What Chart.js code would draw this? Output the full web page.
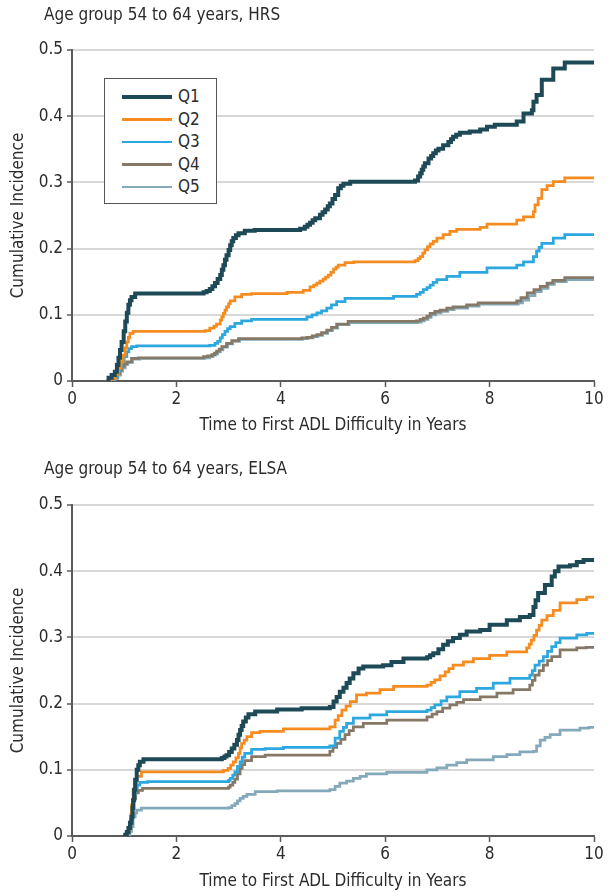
<!DOCTYPE html>
<html>
<head>
<meta charset="utf-8">
<script src="https://cdn.jsdelivr.net/npm/chart.js@4.4.1/dist/chart.umd.min.js"></script>
<style>
  body { margin: 0; background: #fff; color: #2b2b2b;
         font-family: "Liberation Sans Narrow", "DejaVu Sans Condensed", sans-serif; }
  .panel { position: absolute; left: 0; width: 609px; }
  .heading { position: absolute; left: 44px; font-size: 17px; white-space: nowrap; }
  #legend { position: absolute; left: 104px; top: 78px; width: 113px; height: 126px;
            border: 1px solid #555; box-sizing: border-box; background: #fff; }
  #legend .row { position: absolute; left: 17px; height: 20px; font-size: 17px; line-height: 20px; }
  #legend .swatch { display: inline-block; width: 50px; vertical-align: middle; margin-right: 6px; }
</style>
</head>
<body>
<div class="panel" style="top:0;height:446px">
  <div class="heading" style="top:4px">Age group 54 to 64 years, HRS</div>
  <canvas id="hrs_chart" width="609" height="446"></canvas>
  <div id="legend"></div>
</div>
<div class="panel" style="top:455px;height:438px">
  <div class="heading" style="top:3px">Age group 54 to 64 years, ELSA</div>
  <canvas id="elsa_chart" width="609" height="438"></canvas>
</div>
<script>
// Series names and colours (legend order)
var seriesNames = ['Q1', 'Q2', 'Q3', 'Q4', 'Q5'];
var seriesColors = ['#1d4a56', '#f68b1f', '#2ca7df', '#857867', '#84a9ba'];
var seriesWidths = [4, 2.75, 2.75, 2.75, 2.75];

var xTicks = [0, 2, 4, 6, 8, 10];
var yTicks = [0, 0.1, 0.2, 0.3, 0.4, 0.5];

// HRS curves: [years, cumulative incidence]
var hrsQ1 = [[0.66,0],[0.7,0.005],[0.76,0.009],[0.82,0.014],[0.86,0.024],[0.89,0.035],[0.92,0.047],[0.95,0.059],
  [0.99,0.075],[1.02,0.09],[1.05,0.103],[1.08,0.115],[1.11,0.122],[1.14,0.127],[1.21,0.132],
  [2.52,0.134],[2.58,0.136],[2.64,0.139],[2.69,0.143],[2.74,0.148],[2.79,0.154],[2.84,0.16],[2.87,0.168],
  [2.9,0.175],[2.93,0.183],[2.96,0.19],[3.0,0.198],[3.03,0.205],[3.06,0.211],[3.09,0.216],[3.14,0.22],
  [3.19,0.223],[3.31,0.227],[3.5,0.228],[4.37,0.23],[4.46,0.233],[4.51,0.236],[4.56,0.239],[4.61,0.243],
  [4.66,0.246],[4.75,0.251],[4.8,0.255],[4.85,0.259],[4.9,0.264],[4.94,0.268],[4.99,0.275],[5.04,0.281],
  [5.1,0.291],[5.15,0.295],[5.2,0.298],[5.33,0.301],[6.57,0.303],[6.63,0.309],[6.67,0.314],[6.7,0.319],
  [6.73,0.324],[6.76,0.329],[6.83,0.336],[6.88,0.34],[6.92,0.344],[6.97,0.348],[7.02,0.351],[7.11,0.356],
  [7.21,0.361],[7.26,0.365],[7.3,0.369],[7.36,0.372],[7.43,0.375],[7.62,0.377],[7.82,0.38],[7.95,0.384],
  [8.1,0.387],[8.52,0.392],[8.65,0.404],[8.81,0.409],[8.84,0.422],[8.9,0.432],[9.0,0.455],[9.22,0.472],
  [9.44,0.481],[10,0.481]];
var hrsQ2 = [[0.7,0],[0.76,0.004],[0.83,0.01],[0.89,0.019],[0.94,0.029],[0.98,0.039],[1.02,0.05],[1.05,0.059],
  [1.08,0.066],[1.11,0.072],[1.17,0.075],[2.55,0.076],[2.64,0.08],[2.72,0.083],[2.77,0.086],[2.84,0.092],
  [2.87,0.097],[2.9,0.102],[2.93,0.107],[2.96,0.112],[3.0,0.117],[3.03,0.121],[3.12,0.127],[3.25,0.131],
  [3.44,0.132],[4.12,0.134],[4.43,0.137],[4.56,0.142],[4.63,0.145],[4.69,0.148],[4.75,0.151],[4.81,0.154],
  [4.86,0.157],[4.91,0.16],[4.96,0.164],[5.01,0.169],[5.06,0.172],[5.1,0.175],[5.23,0.179],[5.4,0.18],
  [6.57,0.182],[6.63,0.185],[6.67,0.188],[6.72,0.193],[6.76,0.198],[6.81,0.203],[6.86,0.207],[6.92,0.211],
  [6.99,0.216],[7.11,0.221],[7.24,0.226],[7.37,0.229],[7.82,0.232],[7.95,0.237],[8.52,0.243],[8.65,0.248],
  [8.84,0.256],[8.87,0.266],[8.93,0.276],[9.0,0.289],[9.1,0.295],[9.22,0.301],[9.44,0.307],[10,0.307]];
var hrsQ3 = [[0.72,0],[0.8,0.006],[0.87,0.015],[0.91,0.022],[0.95,0.029],[1.0,0.037],[1.05,0.044],[1.09,0.049],
  [1.14,0.052],[1.24,0.053],[2.64,0.054],[2.74,0.057],[2.79,0.06],[2.84,0.065],[2.88,0.07],[2.93,0.075],
  [2.98,0.079],[3.03,0.082],[3.12,0.087],[3.25,0.091],[3.44,0.093],[4.5,0.097],[4.6,0.1],[4.69,0.103],
  [4.78,0.106],[4.88,0.11],[4.97,0.115],[5.07,0.12],[5.23,0.125],[6.16,0.128],[6.6,0.131],[6.67,0.134],
  [6.73,0.138],[6.8,0.141],[6.86,0.145],[6.92,0.149],[6.99,0.153],[7.18,0.158],[7.43,0.164],[7.95,0.171],
  [8.52,0.175],[8.65,0.18],[8.84,0.188],[8.9,0.196],[8.95,0.202],[9.0,0.208],[9.22,0.216],[9.44,0.221],[10,0.221]];
var hrsQ4 = [[0.74,0],[0.8,0.005],[0.86,0.011],[0.91,0.016],[0.95,0.022],[1.0,0.026],[1.05,0.029],[1.14,0.034],
  [1.27,0.035],[2.52,0.037],[2.6,0.038],[2.68,0.04],[2.73,0.042],[2.77,0.045],[2.82,0.048],[2.87,0.052],
  [2.96,0.057],[3.06,0.061],[3.19,0.064],[4.4,0.065],[4.5,0.066],[4.6,0.068],[4.69,0.07],[4.78,0.073],
  [4.88,0.077],[4.97,0.081],[5.07,0.086],[5.29,0.09],[6.6,0.091],[6.67,0.093],[6.73,0.095],[6.8,0.098],
  [6.86,0.102],[6.95,0.105],[7.05,0.107],[7.18,0.11],[7.3,0.112],[7.56,0.115],[7.78,0.118],[8.52,0.121],
  [8.6,0.126],[8.72,0.133],[8.85,0.138],[8.97,0.143],[9.1,0.148],[9.21,0.152],[9.44,0.156],[10,0.157]];
var hrsQ5 = [[0.76,0],[0.82,0.004],[0.88,0.009],[0.93,0.015],[0.97,0.02],[1.02,0.025],[1.07,0.028],[1.16,0.033],
  [1.3,0.034],[2.55,0.035],[2.64,0.037],[2.7,0.039],[2.75,0.041],[2.79,0.044],[2.84,0.047],[2.89,0.051],
  [2.98,0.056],[3.08,0.06],[3.21,0.063],[4.42,0.064],[4.52,0.065],[4.62,0.067],[4.71,0.069],[4.8,0.072],
  [4.9,0.076],[4.99,0.08],[5.09,0.085],[5.31,0.088],[6.62,0.089],[6.69,0.091],[6.75,0.093],[6.82,0.096],
  [6.88,0.1],[6.97,0.103],[7.07,0.105],[7.2,0.108],[7.32,0.11],[7.58,0.113],[7.8,0.116],[8.55,0.118],
  [8.63,0.122],[8.75,0.129],[8.87,0.135],[8.99,0.14],[9.12,0.146],[9.24,0.15],[9.47,0.153],[10,0.154]];

// ELSA curves
var elsaQ1 = [[0.98,0],[1.02,0.002],[1.05,0.006],[1.08,0.012],[1.11,0.02],[1.14,0.029],[1.16,0.042],[1.17,0.054],
  [1.19,0.07],[1.21,0.085],[1.24,0.1],[1.27,0.107],[1.3,0.112],[1.37,0.116],[2.87,0.118],[2.92,0.12],
  [2.96,0.122],[3.01,0.127],[3.06,0.132],[3.11,0.138],[3.16,0.145],[3.19,0.153],[3.22,0.16],[3.25,0.166],
  [3.28,0.173],[3.33,0.179],[3.38,0.184],[3.51,0.188],[3.93,0.191],[4.4,0.193],[4.94,0.195],[5.01,0.203],
  [5.07,0.21],[5.13,0.218],[5.2,0.224],[5.26,0.231],[5.32,0.238],[5.39,0.246],[5.49,0.253],[5.58,0.256],
  [5.96,0.258],[6.12,0.263],[6.35,0.268],[6.8,0.27],[6.86,0.273],[6.92,0.276],[7.02,0.282],[7.11,0.289],
  [7.2,0.294],[7.3,0.299],[7.43,0.304],[7.56,0.309],[7.82,0.311],[8.0,0.319],[8.33,0.326],[8.58,0.331],
  [8.77,0.334],[8.84,0.346],[8.88,0.356],[8.93,0.367],[9.06,0.379],[9.19,0.392],[9.25,0.4],[9.32,0.407],
  [9.54,0.409],[9.67,0.414],[9.8,0.417],[10,0.417]];
var elsaQ2 = [[1.0,0],[1.05,0.004],[1.08,0.01],[1.11,0.019],[1.13,0.033],[1.14,0.047],[1.17,0.07],[1.2,0.08],
  [1.24,0.09],[1.33,0.097],[2.9,0.099],[2.99,0.102],[3.04,0.107],[3.09,0.112],[3.14,0.118],[3.19,0.125],
  [3.22,0.133],[3.25,0.14],[3.3,0.145],[3.35,0.15],[3.44,0.156],[3.6,0.158],[4.05,0.162],[4.94,0.165],
  [5.04,0.175],[5.1,0.182],[5.17,0.19],[5.25,0.196],[5.33,0.203],[5.45,0.213],[5.64,0.216],[5.9,0.221],
  [6.16,0.226],[6.8,0.228],[6.88,0.232],[6.95,0.236],[7.05,0.242],[7.15,0.248],[7.22,0.253],[7.3,0.258],
  [7.5,0.263],[7.69,0.268],[8.0,0.273],[8.33,0.278],[8.71,0.284],[8.76,0.29],[8.8,0.296],[8.85,0.303],
  [8.9,0.311],[8.95,0.318],[9.0,0.326],[9.1,0.333],[9.22,0.341],[9.35,0.352],[9.67,0.357],[9.86,0.361],[10,0.361]];
var elsaQ3 = [[1.0,0],[1.05,0.005],[1.09,0.012],[1.12,0.025],[1.15,0.045],[1.18,0.062],[1.21,0.072],[1.25,0.077],
  [1.3,0.081],[1.45,0.082],[3.0,0.084],[3.03,0.087],[3.08,0.092],[3.12,0.097],[3.17,0.105],[3.22,0.112],
  [3.26,0.119],[3.31,0.125],[3.44,0.131],[3.7,0.132],[4.05,0.134],[4.94,0.136],[5.04,0.148],[5.13,0.158],
  [5.2,0.164],[5.26,0.17],[5.39,0.178],[5.71,0.183],[6.03,0.188],[6.8,0.19],[6.88,0.194],[6.95,0.198],
  [7.07,0.204],[7.18,0.21],[7.43,0.218],[7.75,0.223],[8.07,0.231],[8.39,0.238],[8.77,0.243],[8.82,0.25],
  [8.87,0.258],[8.95,0.264],[9.03,0.271],[9.11,0.279],[9.19,0.286],[9.27,0.292],[9.35,0.299],[9.67,0.304],
  [9.86,0.306],[10,0.307]];
var elsaQ4 = [[1.02,0],[1.07,0.005],[1.1,0.012],[1.13,0.025],[1.16,0.042],[1.19,0.056],[1.22,0.065],[1.27,0.069],
  [1.35,0.072],[3.0,0.074],[3.03,0.077],[3.08,0.081],[3.12,0.086],[3.17,0.094],[3.22,0.102],[3.26,0.108],
  [3.31,0.114],[3.44,0.12],[3.7,0.122],[4.94,0.128],[5.0,0.134],[5.07,0.14],[5.15,0.146],[5.23,0.153],
  [5.31,0.159],[5.39,0.165],[5.58,0.17],[6.03,0.175],[6.8,0.18],[6.9,0.184],[6.99,0.188],[7.1,0.193],
  [7.24,0.198],[7.37,0.202],[7.5,0.206],[7.82,0.21],[8.14,0.216],[8.45,0.221],[8.77,0.228],[8.82,0.235],
  [8.87,0.243],[8.95,0.25],[9.03,0.258],[9.11,0.265],[9.19,0.271],[9.35,0.281],[9.67,0.284],[9.85,0.285],[10,0.285]];
var elsaQ5 = [[1.08,0],[1.11,0.007],[1.14,0.014],[1.17,0.029],[1.21,0.035],[1.24,0.039],[1.33,0.042],[3.0,0.043],
  [3.06,0.046],[3.12,0.049],[3.17,0.053],[3.22,0.057],[3.28,0.06],[3.35,0.063],[3.51,0.067],[3.93,0.068],
  [4.94,0.07],[5.04,0.075],[5.13,0.08],[5.26,0.083],[5.39,0.087],[5.52,0.09],[5.64,0.094],[6.03,0.096],
  [6.8,0.1],[6.99,0.103],[7.18,0.107],[7.37,0.111],[7.56,0.115],[8.07,0.12],[8.33,0.123],[8.58,0.127],
  [8.84,0.128],[8.9,0.136],[8.97,0.145],[9.06,0.149],[9.16,0.153],[9.35,0.16],[9.73,0.163],[9.9,0.164],[10,0.165]];

var FONT = '"Liberation Sans Narrow", "DejaVu Sans Condensed", sans-serif';
var AXIS_COLOR = '#5a5a5a';
var GRID_COLOR = '#d8d8d8';

Chart.defaults.font.family = FONT;
Chart.defaults.font.size = 17;
Chart.defaults.color = '#2b2b2b';

// Legend (HTML, boxed, inside the HRS plot)
var legendEl = document.getElementById('legend');
seriesNames.forEach(function (name, i) {
    var row = document.createElement('div');
    row.className = 'row';
    row.style.top = (7 + i * 22.5) + 'px';
    row.innerHTML = '<span class="swatch" style="height:' + seriesWidths[i] + 'px;background:' +
        seriesColors[i] + '"></span>' + name;
    legendEl.appendChild(row);
});

function buildDatasets(curves) {
    return curves.map(function (pts, i) {
        return {
            label: seriesNames[i],
            data: pts.map(function (p) { return { x: p[0], y: p[1] }; }),
            borderColor: seriesColors[i],
            borderWidth: seriesWidths[i],
            stepped: 'before',
            pointRadius: 0,
            fill: false
        };
    });
}

function makeChart(canvasId, curves, xAxisHeight, xTitleBottom) {
    var ctx = document.getElementById(canvasId).getContext('2d');
    return new Chart(ctx, {
        type: 'line',
        data: { datasets: buildDatasets(curves) },
        options: {
            responsive: false,
            animation: false,
            devicePixelRatio: 1,
            layout: { padding: { left: 0, right: 15, top: 50, bottom: 0 } },
            plugins: { legend: { display: false }, tooltip: { enabled: false } },
            scales: {
                x: {
                    type: 'linear',
                    min: 0, max: 10,
                    afterBuildTicks: function (axis) { axis.ticks = xTicks.map(function (v) { return { value: v }; }); },
                    afterFit: function (axis) { axis.height = xAxisHeight; },
                    ticks: { padding: 2, maxRotation: 0 },
                    grid: { drawOnChartArea: false, drawTicks: true, tickLength: 6, tickColor: AXIS_COLOR, tickWidth: 1.5 },
                    border: { display: true, color: AXIS_COLOR, width: 2 },
                    title: { display: true, text: 'Time to First ADL Difficulty in Years',
                             padding: { top: 0, bottom: xTitleBottom } }
                },
                y: {
                    type: 'linear',
                    min: 0, max: 0.5,
                    afterBuildTicks: function (axis) { axis.ticks = yTicks.map(function (v) { return { value: v }; }); },
                    afterFit: function (axis) { axis.width = 72; },
                    ticks: { padding: 4, callback: function (v) { return String(v); } },
                    grid: { color: GRID_COLOR, lineWidth: 2, drawTicks: true, tickLength: 5, tickColor: AXIS_COLOR, tickWidth: 1.5 },
                    border: { display: true, color: AXIS_COLOR, width: 2 },
                    title: { display: true, text: 'Cumulative Incidence', padding: { top: 8, bottom: 0 } }
                }
            }
        }
    });
}

makeChart('hrs_chart', [hrsQ1, hrsQ2, hrsQ3, hrsQ4, hrsQ5], 65, 10);
makeChart('elsa_chart', [elsaQ1, elsaQ2, elsaQ3, elsaQ4, elsaQ5], 57, 1);
</script>
</body>
</html>
